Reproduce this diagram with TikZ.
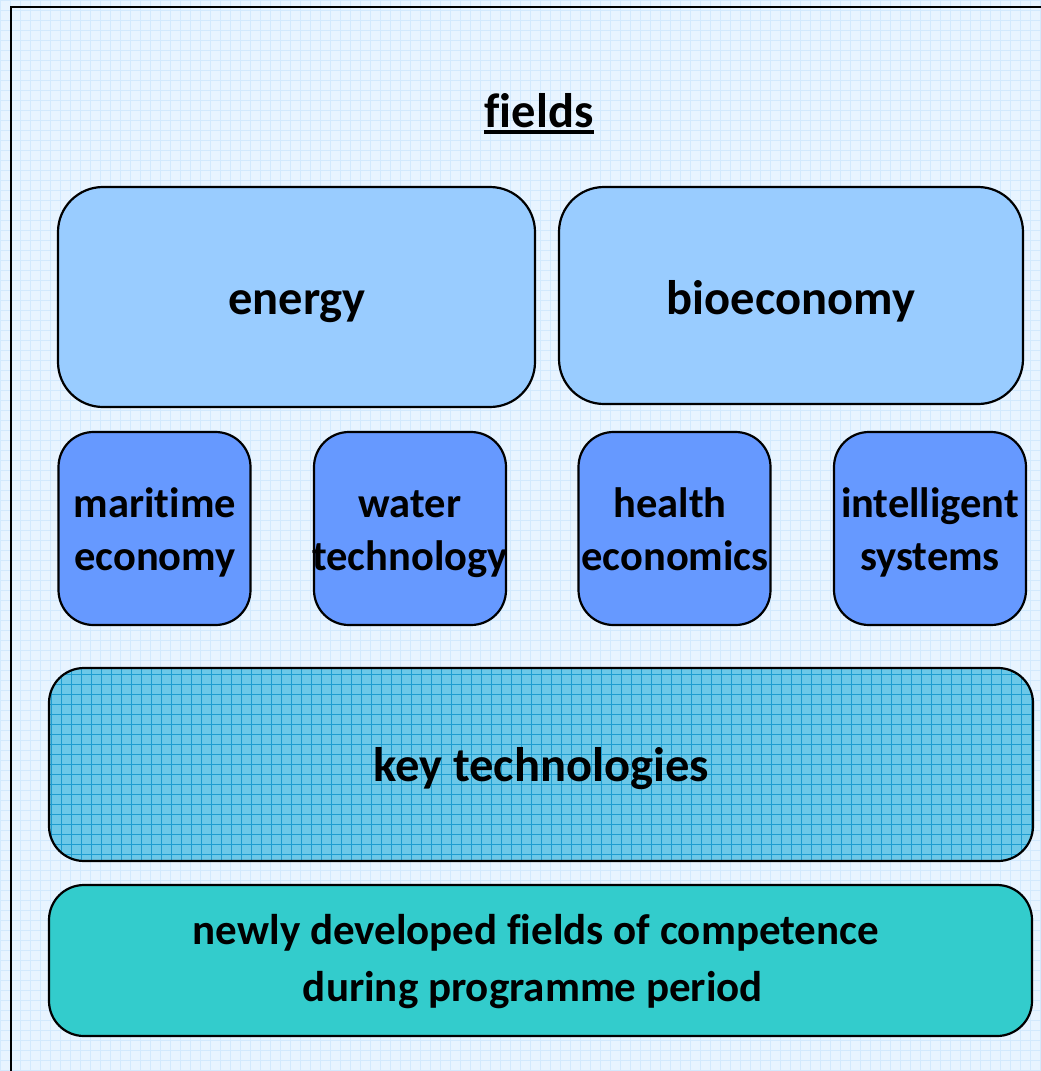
\documentclass[tikz,border=0pt]{standalone}
\usepackage{fontspec}
\setmainfont{Carlito}[Ligatures=NoCommon]
\definecolor{bgc}{HTML}{E8F4FF}
\definecolor{bggrid}{HTML}{D2E9FD}
\definecolor{topc}{HTML}{99CCFF}
\definecolor{midc}{HTML}{6699FF}
\definecolor{keyc}{HTML}{6CC8E8}
\definecolor{keygrid}{HTML}{1E9CCF}
\definecolor{newc}{HTML}{33CCCC}
\tikzset{
  box/.style={draw=black, line width=2.2pt, inner sep=0pt},
  bigbox/.style={box, fill=topc, rounded corners=45pt},
  smallbox/.style={box, fill=midc, rounded corners=35pt, minimum width=192pt, minimum height=193pt},
  wide/.style={box, rounded corners=35pt},
  lbl/.style={inner sep=0pt, anchor=base, font=\fontsize{48.5}{58}\selectfont\bfseries},
  slbl/.style={inner sep=0pt, anchor=base, font=\fontsize{42.5}{50}\selectfont\bfseries},
  nlbl/.style={inner sep=0pt, anchor=base, font=\fontsize{43}{50}\selectfont\bfseries}
}
\begin{document}
\begin{tikzpicture}[x=1pt,y=-1pt]
\useasboundingbox (0,0) rectangle (1041,1071);
\fill[bgc] (0,0) rectangle (1041,1071);
\draw[bggrid, line width=0.8pt] (0,0) grid[step=10pt] (1041,1071);
\coordinate (fa) at (11,1090);
\coordinate (fb) at (11,7);
\coordinate (fc) at (1060,7);
\draw[line width=2pt] (fa) -- (fb) -- (fc);

\node[lbl] (fields) at (539,127) {fields};
\draw[line width=4pt] ([yshift=-4.5pt]fields.base west) -- ([yshift=-4.5pt]fields.base east);

\node[bigbox, minimum width=477pt, minimum height=220pt] (energy) at (296.5,297) {};
\node[lbl] (energyT) at (297,314) {energy};
\node[bigbox, minimum width=464pt, minimum height=217pt] (bio) at (791,295.5) {};
\node[lbl] (bioT) at (791,314) {bioeconomy};

\node[smallbox] (mar) at (154.5,528.5) {};
\node[slbl] (marA) at (155,517) {maritime};
\node[slbl] (marB) at (155,570) {economy};
\node[smallbox] (wat) at (410,528.5) {};
\node[slbl] (watA) at (410,517) {water};
\node[slbl] (watB) at (410,570) {technology};
\node[smallbox] (hea) at (674.5,528.5) {};
\node[slbl] (heaA) at (670,517) {health};
\node[slbl] (heaB) at (675,570) {economics};
\node[smallbox] (int) at (930,528.5) {};
\node[slbl] (intA) at (930,517) {intelligent};
\node[slbl] (intB) at (930,570) {systems};

\node[wide, minimum width=984pt, minimum height=193pt, fill=keyc,
  path picture={\draw[keygrid, line width=0.9pt] ([xshift=-5pt,yshift=-5pt]path picture bounding box.south west) grid[step=10pt] ([xshift=5pt,yshift=5pt]path picture bounding box.north east);}] (key) at (541,764.5) {};
\node[lbl] (keyT) at (541,781) {key technologies};

\node[wide, minimum width=983pt, minimum height=151pt, fill=newc] (new) at (540.5,960.5) {};
\node[nlbl] (newA) at (536,944) {newly developed fields of competence};
\node[nlbl] (newB) at (533,1001) {during programme period};
\end{tikzpicture}
\end{document}
